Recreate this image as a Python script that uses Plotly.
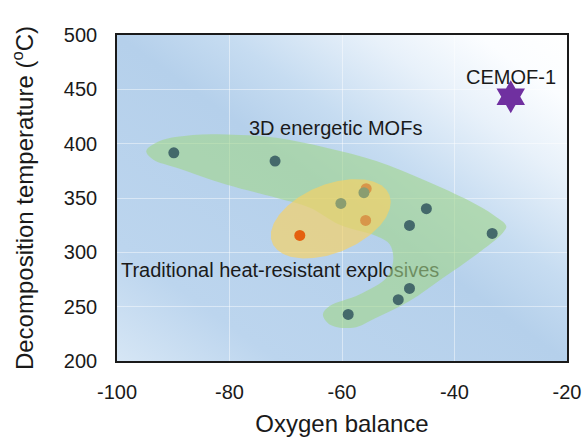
import base64
import numpy as np
import plotly.graph_objects as go

# ---------------- data ----------------
mof_x = [-89.9, -71.9, -60.2, -56.1, -45.0, -48.0, -33.3, -48.0, -50.0, -58.9]
mof_y = [391.6, 384.0, 345.0, 354.9, 340.2, 324.8, 317.4, 266.8, 256.4, 242.9]

explosive_x = [-67.5, -55.7, -55.8]
explosive_y = [315.6, 358.6, 329.4]

cemof_x = [-30.0]
cemof_y = [443.2]

# outline of the "3D energetic MOFs" region (data units)
blob_x = [-80.6, -71.7, -62.8, -53.9, -45.0, -37.3, -33.2, -30.8, -31.4, -36.1,
          -42.0, -48.0, -53.9, -58.0, -62.2, -63.4, -62.2, -56.9, -52.1, -50.9,
          -51.5, -53.9, -60.4, -65.7, -71.7, -80.6, -89.4, -93.6, -94.8, -92.4,
          -86.5, -80.6]
blob_y = [408.5, 405.5, 396.3, 384.1, 365.6, 347.2, 334.9, 324.2, 318.1, 298.1,
          276.7, 255.2, 239.9, 230.7, 233.7, 242.9, 250.6, 261.3, 276.7, 292.0,
          307.3, 315.0, 325.4, 341.1, 350.3, 362.5, 377.9, 385.5, 393.3, 402.5,
          408.0, 408.5]

x_ticks = [-100, -80, -60, -40, -20]
y_ticks = [200, 250, 300, 350, 400, 450, 500]

# ---------------- styles ----------------
TEAL = "#44696b"
OLIVE = "#8a9d70"
ORANGE = "#e5600f"
MUTED_ORANGE = "#d8964a"
mof_colors = [TEAL, TEAL, OLIVE, OLIVE, TEAL, TEAL, TEAL, TEAL, TEAL, TEAL]
explosive_colors = [ORANGE, MUTED_ORANGE, MUTED_ORANGE]

W, H = 585, 437
ML, MR, MT, MB = 117, 18, 35, 76
PW, PH = W - ML - MR, H - MT - MB
XR, YR = [-100, -20], [200, 500]
px_per_x = PW / (XR[1] - XR[0])
px_per_y = PH / (YR[1] - YR[0])

# ellipse region (traditional explosives), defined in pixel-shape terms
ell_cx, ell_cy = -62.0, 330.9
ell_a, ell_b, ell_theta = 63.3, 34.1, np.deg2rad(22.4)
t = np.linspace(0, 2 * np.pi, 200)
ex = ell_cx + (ell_a * np.cos(t) * np.cos(ell_theta) - ell_b * np.sin(t) * np.sin(ell_theta)) / px_per_x
ey = ell_cy + (ell_a * np.cos(t) * np.sin(ell_theta) + ell_b * np.sin(t) * np.cos(ell_theta)) / px_per_y

FONT = "Liberation Sans, Arial, sans-serif"
TXT = "#1a1a1a"

fig = go.Figure()

# text that sits beneath the green region
fig.add_trace(go.Scatter(
    x=[-71.0], y=[282.2], mode="text", text=["Traditional heat-resistant explosives"],
    textfont=dict(family=FONT, size=20, color=TXT), textposition="middle center",
    hoverinfo="skip", showlegend=False))

fig.add_trace(go.Scatter(
    x=blob_x, y=blob_y, mode="lines", line=dict(width=0, shape="spline", smoothing=1.0),
    fill="toself", fillcolor="rgba(161,213,141,0.62)", hoverinfo="skip", showlegend=False))

fig.add_trace(go.Scatter(
    x=ex, y=ey, mode="lines", line=dict(width=0), fill="toself",
    fillcolor="rgba(246,210,100,0.68)", hoverinfo="skip", showlegend=False))

fig.add_trace(go.Scatter(
    x=explosive_x, y=explosive_y, mode="markers",
    marker=dict(size=11, color=explosive_colors, line=dict(width=0)), showlegend=False))

fig.add_trace(go.Scatter(
    x=mof_x, y=mof_y, mode="markers",
    marker=dict(size=11, color=mof_colors, line=dict(width=0)), showlegend=False))

fig.add_trace(go.Scatter(
    x=cemof_x, y=cemof_y, mode="markers",
    marker=dict(symbol="hexagram", size=25, color="#7030a0", line=dict(width=0)),
    showlegend=False))

fig.add_annotation(x=-61.2, y=414.7, text="3D energetic MOFs", showarrow=False,
                   font=dict(family=FONT, size=20, color=TXT))
fig.add_annotation(x=-30.0, y=461.3, text="CEMOF-1", showarrow=False,
                   font=dict(family=FONT, size=20, color=TXT))

# background gradient
svg = (
    f'<svg xmlns="http://www.w3.org/2000/svg" width="{PW}" height="{PH}" '
    f'viewBox="0 0 {PW} {PH}" preserveAspectRatio="none">'
    '<defs><linearGradient id="g" x1="0" y1="1" x2="1" y2="0">'
    '<stop offset="0" stop-color="#d6e6f5"/>'
    '<stop offset="0.18" stop-color="#bcd5ee"/>'
    '<stop offset="0.5" stop-color="#b5d0eb"/>'
    '<stop offset="0.62" stop-color="#c6dcf1"/>'
    '<stop offset="0.78" stop-color="#e8f1fa"/>'
    '<stop offset="0.9" stop-color="#fbfdff"/>'
    '<stop offset="1" stop-color="#ffffff"/>'
    '</linearGradient></defs>'
    f'<rect width="{PW}" height="{PH}" fill="url(#g)"/></svg>'
)
src = "data:image/svg+xml;base64," + base64.b64encode(svg.encode()).decode()
fig.add_layout_image(dict(source=src, xref="paper", yref="paper", x=0, y=1,
                          sizex=1, sizey=1, sizing="stretch", xanchor="left",
                          yanchor="top", layer="below"))

axis_common = dict(showline=True, mirror=True, linecolor="#1a1a1a", linewidth=1.6,
                   showgrid=True, gridcolor="rgba(255,255,255,0.45)", gridwidth=1,
                   zeroline=False, ticks="", automargin=False,
                   tickfont=dict(family=FONT, size=20, color=TXT))

fig.update_xaxes(range=XR, tickvals=x_ticks, ticktext=[str(v) for v in x_ticks],
                 title=dict(text="Oxygen balance", font=dict(family=FONT, size=24, color=TXT),
                            standoff=15),
                 ticklabelstandoff=12, **axis_common)
fig.update_yaxes(range=YR, tickvals=y_ticks, ticktext=[str(v) for v in y_ticks],
                 title=dict(text="Decomposition temperature (<sup>o</sup>C)",
                            font=dict(family=FONT, size=24, color=TXT), standoff=23),
                 ticklabelstandoff=14, **axis_common)

fig.update_layout(width=W, height=H, margin=dict(l=ML, r=MR, t=MT, b=MB),
                  paper_bgcolor="white", plot_bgcolor="rgba(0,0,0,0)",
                  showlegend=False)

fig.write_html("out.html", config={"displayModeBar": False},
               post_script="document.body.style.margin='0';document.body.style.overflow='hidden';")
